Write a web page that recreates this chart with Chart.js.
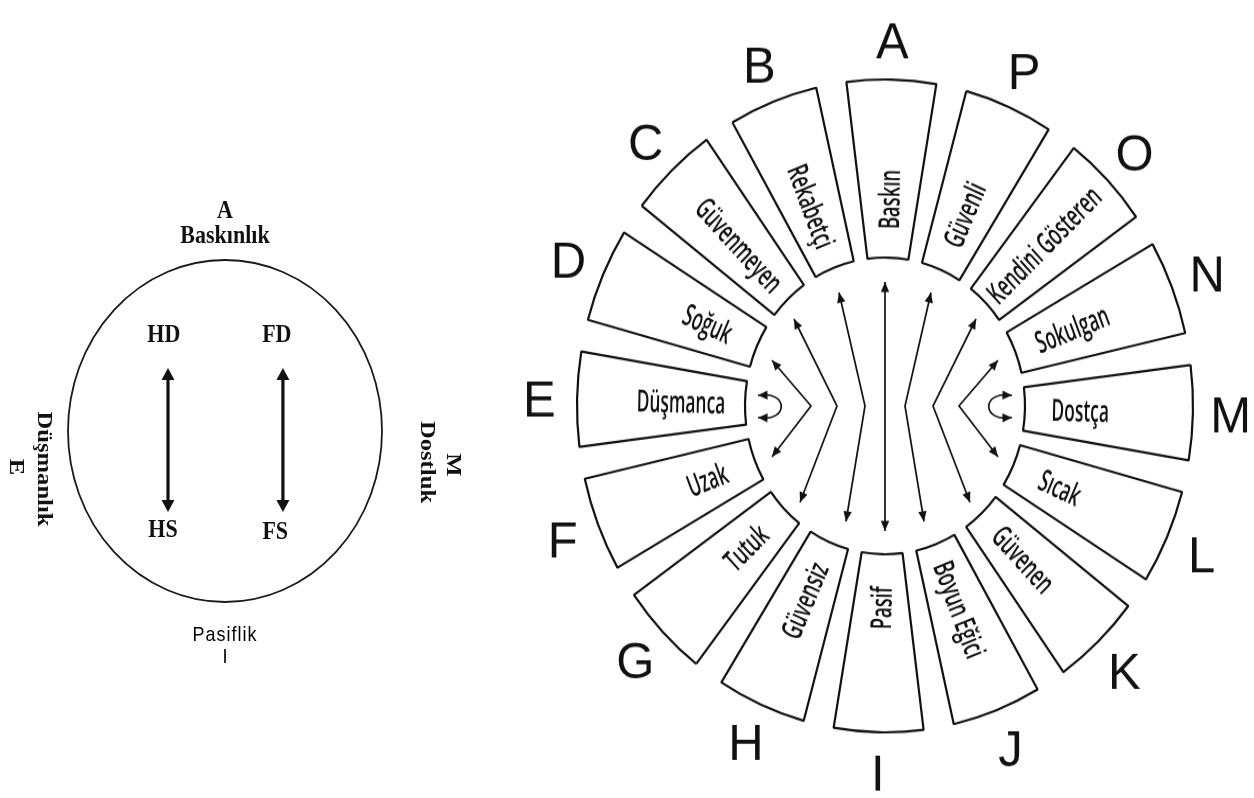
<!DOCTYPE html>
<html><head><meta charset="utf-8">
<script src="https://cdn.jsdelivr.net/npm/chart.js@4.4.1/dist/chart.umd.min.js"></script>
<style>
html,body{margin:0;padding:0;background:#fff;width:1254px;height:798px;overflow:hidden}
#leftBox{position:absolute;left:0;top:0;width:494px;height:798px}
#wheelBox{position:absolute;left:494px;top:0;width:760px;height:753px;transform:scaleY(1.0598);transform-origin:0 0}
canvas{display:block}
</style></head><body>
<div id="leftBox"><canvas id="left" width="494" height="798" style="width:494px;height:798px"></canvas></div>
<div id="wheelBox"><canvas id="wheel" width="760" height="753" style="width:760px;height:753px"></canvas></div>
<script>
// ---- Wheel data (alphabetical order A..P, counter-clockwise around the wheel) ----
const letters = ['A','B','C','D','E','F','G','H','I','J','K','L','M','N','O','P'];
const traits = ['Baskın','Rekabetçi','Güvenmeyen','Soğuk','Düşmanca','Uzak','Tutuk','Güvensiz',
                'Pasif','Boyun Eğici','Güvenen','Sıcak','Dostça','Sokulgan','Kendini Gösteren','Güvenli'];
const weights = [1,1,1,1,1,1,1,1,1,1,1,1,1,1,1,1];

// ---- Left schematic data ----
const poleLabels = ['HD','FD','HS','FS'];
const poleX = [-0.39, 0.33, -0.395, 0.32];
const poleY = [0.56, 0.56, -0.585, -0.596];
const linkX = [-0.363, 0.369];
const linkTop = [0.368, 0.368];
const linkBottom = [-0.474, -0.474];
const axisTop = ['A','Baskınlık'];
const axisBottom = ['Pasiflik','I'];
const axisLeft = ['Düşmanlık','E'];
const axisRight = ['M','Dostluk'];

// ---- Inner arrows of the wheel (offsets from centre, in units where inner radius = 140) ----
const straightArrow = [[0,-117],[0,118]];
const bentArrows = [
  [[-46,-107],[-20,0],[-39,109]],
  [[-91,-82],[-48,0],[-85,91]],
  [[-113,-43],[-74,0],[-113,48]]
];
const curlArrow = [[-127,-10],[-96,-15],[-96,16],[-127,11]];

// clockwise order starting at A
const cw = [0]; for (let i = 15; i >= 1; i--) cw.push(i);
const SEG = 16.8, GAP = 5.7, TILT = 1.2;
const wheelData = [], wheelLabels = [], wheelBg = [], wheelBorder = [], wheelBW = [];
cw.forEach(i => {
  wheelData.push(weights[i] * SEG); wheelLabels.push(traits[i]);
  wheelBg.push('#ffffff'); wheelBorder.push('#111111'); wheelBW.push(2.2);
  wheelData.push(GAP); wheelLabels.push('');
  wheelBg.push('rgba(0,0,0,0)'); wheelBorder.push('rgba(0,0,0,0)'); wheelBW.push(0);
});

function arrowHead(ctx, x1, y1, x2, y2, len, hw) {
  const a = Math.atan2(y2 - y1, x2 - x1);
  const c = Math.cos(a), s = Math.sin(a);
  ctx.beginPath();
  ctx.moveTo(x2, y2);
  ctx.lineTo(x2 - len * c + hw * s, y2 - len * s - hw * c);
  ctx.lineTo(x2 - len * c - hw * s, y2 - len * s + hw * c);
  ctx.closePath();
  ctx.fill();
}

const wheelDecor = {
  id: 'wheelDecor',
  afterDatasetsDraw(chart) {
    const ctx = chart.ctx;
    const arcs = chart.getDatasetMeta(0).data;
    const a0 = arcs[0];
    const cx = a0.x, cy = a0.y, rin = a0.innerRadius;
    const s = rin / 140;
    ctx.save();
    // trait labels
    const fs = 29 * s, squeeze = 0.6;
    ctx.font = '600 ' + fs + 'px "Open Sans"';
    ctx.fillStyle = '#111';
    ctx.textAlign = 'center';
    ctx.textBaseline = 'alphabetic';
    cw.forEach((ti, k) => {
      const a = arcs[2 * k];
      const mid = (a.startAngle + a.endAngle) / 2;
      const c = Math.cos(mid), sn = Math.sin(mid);
      const rot = (c > 0.05 || (Math.abs(c) <= 0.05 && sn < 0)) ? mid : mid + Math.PI;
      const w = ctx.measureText(traits[ti]).width * squeeze;
      const r = rin * 1.28 + 0.28 * w;
      ctx.save();
      ctx.translate(cx + r * c, cy + r * sn);
      ctx.rotate(rot);
      ctx.scale(squeeze, 1);
      ctx.fillText(traits[ti], 0, fs * 0.36);
      ctx.restore();
    });
    // outer letters
    const ls = 49 * s;
    ctx.font = ls + 'px "Liberation Sans", Arial, sans-serif';
    ctx.fillStyle = '#111';
    cw.forEach((ti, k) => {
      const a = arcs[2 * k];
      const mid = (a.startAngle + a.endAngle) / 2;
      const r = rin * 2.47;
      ctx.fillText(letters[ti], cx + r * Math.cos(mid), cy + r * Math.sin(mid) + ls * 0.358);
    });
    // arrows
    ctx.strokeStyle = '#111';
    ctx.fillStyle = '#111';
    ctx.lineWidth = 1.7;
    const P = (p, m) => [cx + m * p[0] * s, cy + p[1] * s];
    const hl = 9.5 * s, hw = 4.2 * s;
    const poly = (pts, m) => {
      const q = pts.map(p => P(p, m));
      ctx.beginPath();
      ctx.moveTo(q[0][0], q[0][1]);
      for (let i = 1; i < q.length; i++) ctx.lineTo(q[i][0], q[i][1]);
      ctx.stroke();
      arrowHead(ctx, q[1][0], q[1][1], q[0][0], q[0][1], hl, hw);
      const n = q.length;
      arrowHead(ctx, q[n - 2][0], q[n - 2][1], q[n - 1][0], q[n - 1][1], hl, hw);
    };
    poly(straightArrow, 1);
    [1, -1].forEach(m => {
      bentArrows.forEach(b => poly(b, m));
      const q = curlArrow.map(p => P(p, m));
      ctx.beginPath();
      ctx.moveTo(q[0][0], q[0][1]);
      ctx.bezierCurveTo(q[1][0], q[1][1], q[2][0], q[2][1], q[3][0], q[3][1]);
      ctx.stroke();
      arrowHead(ctx, q[1][0], q[1][1] + 4 * s, q[0][0], q[0][1], hl, hw);
      arrowHead(ctx, q[2][0], q[2][1] - 4 * s, q[3][0], q[3][1], hl, hw);
    });
    ctx.restore();
  }
};

new Chart(document.getElementById('wheel'), {
  type: 'doughnut',
  data: { labels: wheelLabels, datasets: [{ data: wheelData, backgroundColor: wheelBg, borderColor: wheelBorder,
    borderWidth: wheelBW, borderJoinStyle: 'bevel', hoverOffset: 0 }] },
  options: {
    responsive: false, animation: false, events: [],
    rotation: -SEG / 2 + TILT,
    radius: 308,
    cutout: (140 / 308 * 100) + '%',
    layout: { padding: { left: 100, right: 78, top: 100, bottom: 87 } },
    plugins: { legend: { display: false }, tooltip: { enabled: false } }
  },
  plugins: [wheelDecor]
});

// ---- Left schematic ----
const K = 1.12;
function txt(ctx, t, x, y, font, rot, spacing) {
  ctx.save();
  ctx.font = font;
  if (spacing) ctx.letterSpacing = spacing;
  ctx.translate(x, y);
  ctx.scale(1, K);
  ctx.rotate(rot || 0);
  ctx.textAlign = 'center';
  ctx.textBaseline = 'middle';
  ctx.fillText(t, 0, 0);
  ctx.restore();
}
const leftDecor = {
  id: 'leftDecor',
  afterDatasetsDraw(chart) {
    const ctx = chart.ctx;
    const xs = chart.scales.x, ys = chart.scales.y;
    const L = xs.getPixelForValue(-1), R = xs.getPixelForValue(1);
    const T = ys.getPixelForValue(1), B = ys.getPixelForValue(-1);
    const cx = (L + R) / 2, cy = (T + B) / 2;
    ctx.save();
    ctx.strokeStyle = '#1a1a1a';
    ctx.lineWidth = 1.8;
    ctx.beginPath();
    ctx.ellipse(cx, cy, (R - L) / 2, (B - T) / 2, 0, 0, Math.PI * 2);
    ctx.stroke();
    ctx.fillStyle = '#111';
    const serif = 'bold 22px "Liberation Serif", "Times New Roman", serif';
    poleLabels.forEach((p, i) => txt(ctx, p, xs.getPixelForValue(poleX[i]), ys.getPixelForValue(poleY[i]), serif));
    ctx.strokeStyle = '#111';
    ctx.lineWidth = 3.2;
    linkX.forEach((lx, i) => {
      const x = xs.getPixelForValue(lx);
      const y1 = ys.getPixelForValue(linkTop[i]), y2 = ys.getPixelForValue(linkBottom[i]);
      ctx.beginPath(); ctx.moveTo(x, y1 + 8); ctx.lineTo(x, y2 - 8); ctx.stroke();
      arrowHead(ctx, x, y2, x, y1, 12, 6.5);
      arrowHead(ctx, x, y1, x, y2, 12, 6.5);
    });
    txt(ctx, axisTop[0], cx, T - 48, serif);
    txt(ctx, axisTop[1], cx, T - 23, serif);
    const sans = '500 18px "Liberation Sans", Arial, sans-serif';
    ctx.fillStyle = '#000';
    txt(ctx, axisBottom[0], cx, B + 33, sans, 0, '1px');
    txt(ctx, axisBottom[1], cx, B + 55, sans);
    ctx.fillStyle = '#111';
    txt(ctx, axisLeft[0], L - 24, cy + 38, serif, Math.PI / 2);
    txt(ctx, axisLeft[1], L - 52, cy + 36, serif, Math.PI / 2);
    txt(ctx, axisRight[0], R + 71, cy + 34, serif, Math.PI / 2);
    txt(ctx, axisRight[1], R + 45, cy + 31, serif, Math.PI / 2);
    ctx.restore();
  }
};

new Chart(document.getElementById('left'), {
  type: 'scatter',
  data: { datasets: [{ data: poleLabels.map((p, i) => ({ x: poleX[i], y: poleY[i] })), pointRadius: 0 }] },
  options: {
    responsive: false, animation: false, events: [],
    layout: { padding: { left: 68, right: 112, top: 260, bottom: 196 } },
    scales: {
      x: { type: 'linear', min: -1, max: 1, display: false },
      y: { type: 'linear', min: -1, max: 1, display: false }
    },
    plugins: { legend: { display: false }, tooltip: { enabled: false } }
  },
  plugins: [leftDecor]
});
</script>
</body></html>
